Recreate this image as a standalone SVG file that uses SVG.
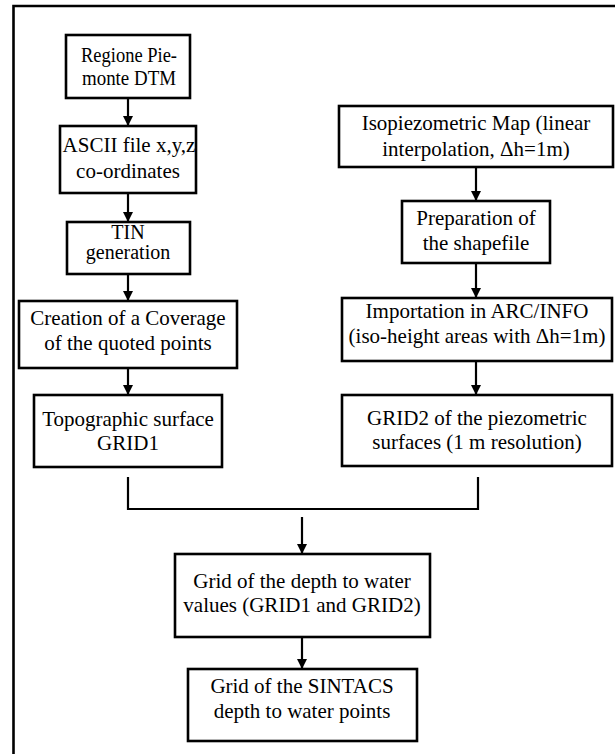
<svg xmlns="http://www.w3.org/2000/svg" width="615" height="754" viewBox="0 0 615 754">
<style>
.box{fill:#fff;stroke:#000;stroke-width:2.6}
.t{font-family:'Liberation Serif','DejaVu Serif','Times New Roman',serif;font-size:21px;fill:#000;text-anchor:middle}
.c{fill:none;stroke:#000;stroke-width:2.2}
</style>
<defs>
<marker id="ah" markerUnits="userSpaceOnUse" markerWidth="10" markerHeight="10" refX="10" refY="5" orient="auto">
<path d="M0,0 L10,5 L0,10 z" fill="#000"/>
</marker>
</defs>
<rect width="615" height="754" fill="#fff"/>
<path d="M13.5,754 V6 H615" fill="none" stroke="#000" stroke-width="2.6"/>
<g id="connectors">
<line class="c" x1="128" y1="98" x2="128" y2="126" marker-end="url(#ah)"/>
<line class="c" x1="128" y1="193" x2="128" y2="222" marker-end="url(#ah)"/>
<line class="c" x1="128" y1="266" x2="128" y2="301" marker-end="url(#ah)"/>
<line class="c" x1="128" y1="360" x2="128" y2="395" marker-end="url(#ah)"/>
<line class="c" x1="476" y1="162" x2="476" y2="201" marker-end="url(#ah)"/>
<line class="c" x1="476" y1="263" x2="476" y2="298" marker-end="url(#ah)"/>
<line class="c" x1="476" y1="357" x2="476" y2="395" marker-end="url(#ah)"/>
<path class="c" d="M128,477 V509 H478 V477"/>
<line class="c" x1="302" y1="517" x2="302" y2="554" marker-end="url(#ah)"/>
<line class="c" x1="302" y1="637" x2="302" y2="669" marker-end="url(#ah)"/>
</g>
<g id="n1"><rect class="box" x="66" y="35" width="124" height="63"/>
<text class="t" x="129" y="62" textLength="96" lengthAdjust="spacingAndGlyphs">Regione Pie-</text>
<text class="t" x="129" y="85" textLength="94" lengthAdjust="spacingAndGlyphs">monte DTM</text></g>
<g id="n2"><rect class="box" x="60" y="126" width="136" height="67"/>
<text class="t" x="129" y="152">ASCII file x,y,z</text>
<text class="t" x="128" y="178">co-ordinates</text></g>
<g id="n3"><rect class="box" x="67" y="222" width="123" height="52"/>
<text class="t" x="128" y="239" style="font-size:20px">TIN</text>
<text class="t" x="128" y="259" style="font-size:20px">generation</text></g>
<g id="n4"><rect class="box" x="19" y="301" width="218" height="67"/>
<text class="t" x="128" y="325">Creation of a Coverage</text>
<text class="t" x="128" y="350">of the quoted points</text></g>
<g id="n5"><rect class="box" x="34" y="395" width="188" height="72"/>
<text class="t" x="128" y="426">Topographic surface</text>
<text class="t" x="128" y="450">GRID1</text></g>
<g id="n6"><rect class="box" x="339" y="106" width="274" height="61"/>
<text class="t" x="476" y="130">Isopiezometric Map (linear</text>
<text class="t" x="476" y="156">interpolation, Δh=1m)</text></g>
<g id="n7"><rect class="box" x="402" y="201" width="148" height="62"/>
<text class="t" x="476" y="225">Preparation of</text>
<text class="t" x="476" y="250">the shapefile</text></g>
<g id="n8"><rect class="box" x="342" y="298" width="270" height="63"/>
<text class="t" x="477" y="318">Importation in ARC/INFO</text>
<text class="t" x="477" y="343">(iso-height areas with Δh=1m)</text></g>
<g id="n9"><rect class="box" x="342" y="395" width="270" height="71"/>
<text class="t" x="477" y="425">GRID2 of the piezometric</text>
<text class="t" x="477" y="449">surfaces (1 m resolution)</text></g>
<g id="n10"><rect class="box" x="175" y="554" width="255" height="83"/>
<text class="t" x="302" y="588">Grid of the depth to water</text>
<text class="t" x="302" y="612">values (GRID1 and GRID2)</text></g>
<g id="n11"><rect class="box" x="188" y="669" width="229" height="72"/>
<text class="t" x="302" y="693">Grid of the SINTACS</text>
<text class="t" x="302" y="718">depth to water points</text></g>
</svg>
